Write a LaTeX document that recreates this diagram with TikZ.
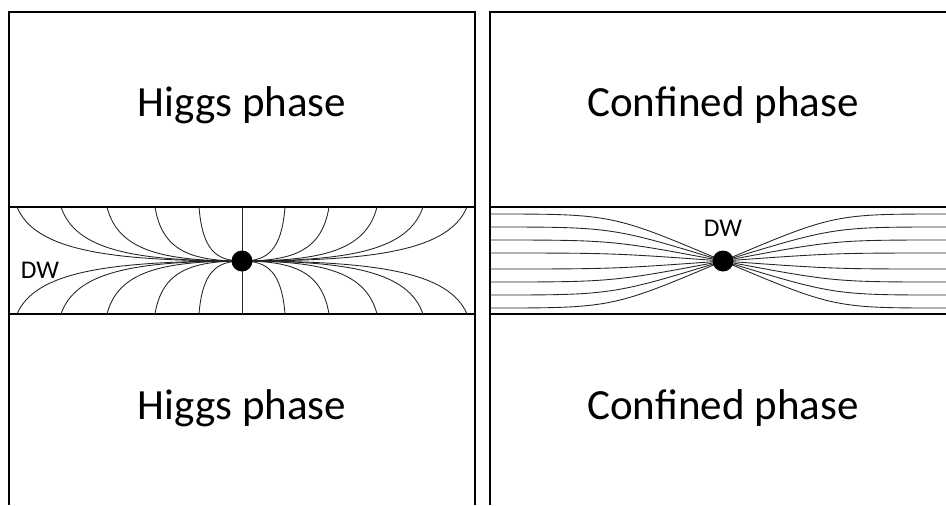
\documentclass[tikz,border=0pt]{standalone}
\usepackage{fontspec}
\setmainfont{Carlito}
\begin{document}
\begin{tikzpicture}[x=0.02cm,y=-0.02cm,
  frame/.style={line width=0.75pt, black},
  fl/.style={line width=0.5pt, black!85},
  dotnode/.style={circle, fill=black, inner sep=0pt, minimum size=0.42cm},
  phase/.style={font=\fontsize{24.5}{29}\selectfont, inner sep=0pt},
  dwlabel/.style={font=\fontsize{14.5}{17}\selectfont, inner sep=0pt}]
\useasboundingbox (0,0) rectangle (946,505);
% left panel frame
\coordinate (L1) at (9,505);
\coordinate (L2) at (9,12);
\coordinate (L3) at (475,12);
\coordinate (L4) at (475,505);
\draw[frame] (L1) -- (L2) -- (L3) -- (L4);
\coordinate (LbA) at (9,207); \coordinate (LbB) at (475,207);
\coordinate (LcA) at (9,314); \coordinate (LcB) at (475,314);
\draw[frame] (LbA) -- (LbB);
\draw[frame] (LcA) -- (LcB);
% right panel frame
\coordinate (R1) at (490,505);
\coordinate (R2) at (490,12);
\coordinate (R3) at (946,12);
\draw[frame] (R1) -- (R2) -- (R3);
\coordinate (RbA) at (490,207); \coordinate (RbB) at (946,207);
\coordinate (RcA) at (490,314); \coordinate (RcB) at (946,314);
\draw[frame] (RbA) -- (RbB);
\draw[frame] (RcA) -- (RcB);
% left field lines
\coordinate (cL) at (242,261);
\coordinate (vT) at (242,207);
\coordinate (vB) at (242,314);
\draw[fl] (vT) -- (vB);
\foreach \x in {17,61,107,155,199}{
  \pgfmathsetmacro{\d}{242-\x}
  \pgfmathsetmacro{\xr}{484-\x}
  \draw[fl] (\x,207) .. controls ({\x+0.08*\d},250) and ({\x+0.4*\d},261) .. (cL);
  \draw[fl] (\x,314) .. controls ({\x+0.08*\d},272) and ({\x+0.4*\d},261) .. (cL);
  \draw[fl] (\xr,207) .. controls ({\xr-0.08*\d},250) and ({\xr-0.4*\d},261) .. (cL);
  \draw[fl] (\xr,314) .. controls ({\xr-0.08*\d},272) and ({\xr-0.4*\d},261) .. (cL);
}
\node[dotnode] (dotL) at (cL) {};
% right field lines
\coordinate (cR) at (723,261);
\foreach \o in {-47,-34,-21,-8,8,21,34,47}{
  \draw[fl] (490,261+\o) .. controls (612,261+\o) .. (cR);
  \draw[fl] (946,261+\o) .. controls (834,261+\o) .. (cR);
}
\node[dotnode] (dotR) at (cR) {};
% labels
\node[phase] (h1) at (242,105) {Higgs phase};
\node[phase] (h2) at (242,408) {Higgs phase};
\node[phase] (c1) at (723,105) {Confined phase};
\node[phase] (c2) at (723,408) {Confined phase};
\node[dwlabel] (dw1) at (40,270) {DW};
\node[dwlabel] (dw2) at (723,228) {DW};
\end{tikzpicture}
\end{document}
